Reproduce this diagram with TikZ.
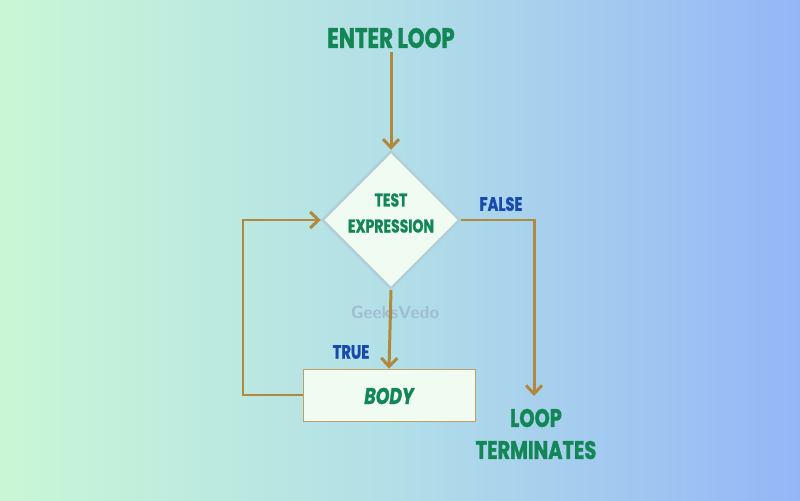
\documentclass[tikz,border=0pt]{standalone}
\usepackage{fontspec}
\newfontfamily\heavyfont{Poppins}[FakeStretch=0.76,FakeBold=1.2]
\usetikzlibrary{positioning,arrows.meta,shapes.geometric}
\definecolor{bgleft}{RGB}{201,247,214}
\definecolor{bgmid}{RGB}{178,222,232}
\definecolor{bgright}{RGB}{148,182,247}
\definecolor{lblgreen}{RGB}{18,135,85}
\definecolor{condblue}{RGB}{22,74,172}
\definecolor{wire}{RGB}{176,136,62}
\definecolor{boxfill}{RGB}{240,252,242}
\definecolor{rimblue}{RGB}{178,206,214}
\definecolor{markgray}{RGB}{160,190,210}

\begin{document}
\begin{tikzpicture}[x=0.02cm,y=0.02cm,
  lbl/.style={text=lblgreen,inner sep=0pt,align=center},
  cond/.style={text=condblue,inner sep=0pt,font=\heavyfont\bfseries\fontsize{11}{11}\selectfont},
  flow/.style={draw=wire,line width=1.7pt,-{Straight Barb[length=1.7mm,width=3.2mm]}},
  testbox/.style={diamond,draw=rimblue,line width=1.4pt,fill=boxfill,
    inner sep=0pt,minimum width=2.76cm,minimum height=2.76cm},
  bodybox/.style={rectangle,draw=wire!80,thin,fill=boxfill,
    minimum width=3.44cm,minimum height=1.04cm,inner sep=0pt}]
% gradient backdrop fixes the page size
\shade[left color=bgleft,right color=bgright,middle color=bgmid] (0,0) rectangle (800,500);
% ===== nodes =====
\node[lbl,font=\heavyfont\bfseries\fontsize{16}{16}\selectfont] (enter) at (391,462) {ENTER LOOP};
\node[testbox] (test) at (391,280) {};
\node[lbl,font=\heavyfont\bfseries\fontsize{10.5}{14.8}\selectfont] (testtxt) at (391,287) {TEST\\EXPRESSION};
\node[bodybox] (body) at (389,105) {};
\node[lbl,font=\heavyfont\bfseries\itshape\fontsize{13}{13}\selectfont] (bodytxt) at (389,104) {BODY};
\node[lbl,font=\heavyfont\bfseries\fontsize{14.5}{18.2}\selectfont] (term) at (536,66) {LOOP\\TERMINATES};
\node[cond] (false) at (501,296) {FALSE};
\node[cond] (true) at (351,148) {TRUE};
\node[text=markgray,font=\sffamily\bfseries\fontsize{10}{10}\selectfont] (mark) at (395,188) {GeeksVedo};
\coordinate (stop) at (534,104);
\coordinate (back) at (243,105);
% ===== connectors =====
\draw[flow] (enter.south) ++(0,-4) -- (test.north);
\draw[flow] (test.south) -- (body.north);
\draw[flow] (test.east) -| (stop);
\draw[flow] (body.west) -- (back) |- (test.west);
\end{tikzpicture}
\end{document}
